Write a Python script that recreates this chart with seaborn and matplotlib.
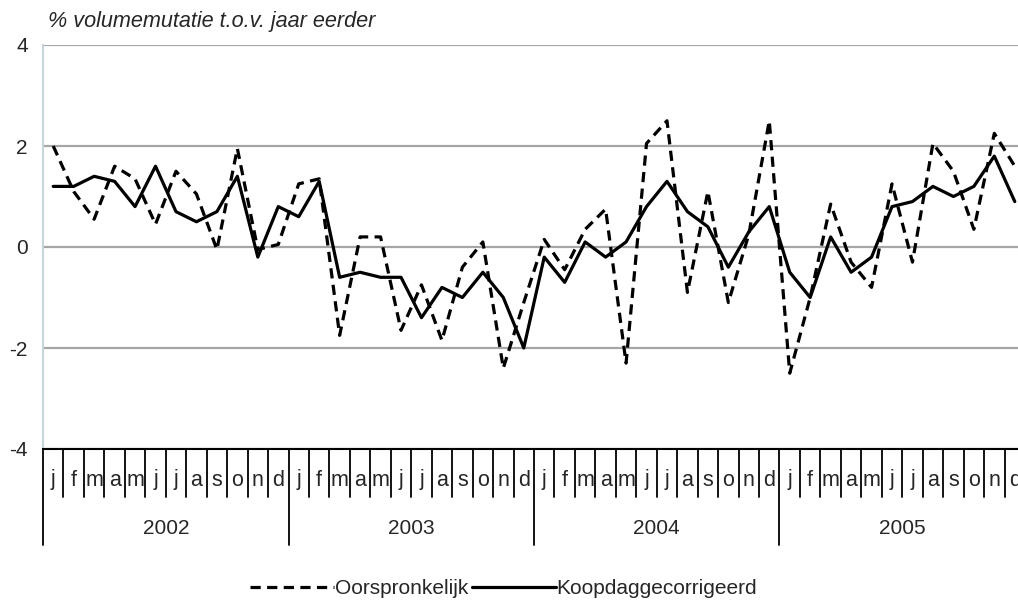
import pandas as pd
import matplotlib.pyplot as plt
import matplotlib.transforms as mtransforms
import seaborn as sns

# Data
months = ['j', 'f', 'm', 'a', 'm', 'j', 'j', 'a', 's', 'o', 'n', 'd']
years = [2002, 2003, 2004, 2005]

oorspronkelijk = [
    2.0, 1.1, 0.55, 1.6, 1.35, 0.45, 1.5, 1.05, -0.05, 1.95, -0.05, 0.05,
    1.25, 1.35, -1.75, 0.2, 0.2, -1.65, -0.75, -1.85, -0.4, 0.1, -2.4, -1.1,
    0.15, -0.45, 0.35, 0.75, -2.3, 2.05, 2.5, -0.9, 1.1, -1.1, 0.25, 2.5,
    -2.5, -1.0, 0.85, -0.3, -0.8, 1.25, -0.3, 2.05, 1.5, 0.35, 2.25, 1.6,
]
koopdaggecorrigeerd = [
    1.2, 1.2, 1.4, 1.3, 0.8, 1.6, 0.7, 0.5, 0.7, 1.4, -0.2, 0.8,
    0.6, 1.3, -0.6, -0.5, -0.6, -0.6, -1.4, -0.8, -1.0, -0.5, -1.0, -2.0,
    -0.2, -0.7, 0.1, -0.2, 0.1, 0.8, 1.3, 0.7, 0.4, -0.4, 0.3, 0.8,
    -0.5, -1.0, 0.2, -0.5, -0.2, 0.8, 0.9, 1.2, 1.0, 1.2, 1.8, 0.9,
]
y_ticks = [-4, -2, 0, 2, 4]

n = len(oorspronkelijk)
df = pd.DataFrame({
    'idx': list(range(n)) * 2,
    'waarde': oorspronkelijk + koopdaggecorrigeerd,
    'reeks': ['Oorspronkelijk'] * n + ['Koopdaggecorrigeerd'] * n,
})

sns.set_style('white')
plt.rcParams['font.family'] = ['Liberation Sans', 'DejaVu Sans']
plt.rcParams['font.size'] = 15

fig = plt.figure(figsize=(10.18, 6.01), dpi=100)
W, H = 1018, 601
# plot area runs past the right edge of the picture, like the original
ax = fig.add_axes([43 / W, 1 - 449 / H, 982 / W, 404 / H])

sns.lineplot(data=df, x='idx', y='waarde', style='reeks',
             style_order=['Oorspronkelijk', 'Koopdaggecorrigeerd'],
             dashes={'Oorspronkelijk': (3.2, 2), 'Koopdaggecorrigeerd': ''},
             color='black', linewidth=2.3, ax=ax, legend=True)

ax.set_xlim(-0.5, n - 0.5)
ax.set_ylim(-4, 4)
ax.set_yticks(y_ticks)
ax.set_yticklabels([str(t) for t in y_ticks])
ax.set_xticks([])
ax.set_xlabel('')
ax.set_ylabel('')
ax.yaxis.grid(True, color='#a6a6a6', linewidth=1.6)
ax.set_axisbelow(True)
ax.tick_params(axis='y', length=5, width=1, color='#c9d3da', pad=6, labelsize=15)
for s in ['top', 'right']:
    ax.spines[s].set_visible(False)
ax.spines['left'].set_color('#c9d3da')
ax.spines['left'].set_linewidth(1.5)
ax.spines['bottom'].set_color('black')
ax.spines['bottom'].set_linewidth(1.5)

# title as italic text top-left
fig.text(48 / W, 1 - 22 / H, '% volumemutatie t.o.v. jaar eerder',
         style='italic', fontsize=15.6, ha='left', va='center')

# hierarchical x axis: months, then years
trans = mtransforms.blended_transform_factory(ax.transData, fig.transFigure)
y_top = 1 - 449 / H
for i in range(n):
    ax.text(i, 1 - 480 / H, months[i % 12], transform=trans,
            ha='center', va='center', fontsize=15.5, clip_on=False)
for i in range(n + 1):
    y_bot = 1 - (545 if i % 12 == 0 else 497) / H
    ax.plot([i - 0.5, i - 0.5], [y_top, y_bot], transform=trans,
            color='black', linewidth=1.3, clip_on=False)
for k, yr in enumerate(years):
    ax.text(k * 12 + 5.5, 1 - 528 / H, str(yr), transform=trans,
            ha='center', va='center', fontsize=15, clip_on=False)

handles, labels = ax.get_legend_handles_labels()
ax.get_legend().remove()
fig.legend(handles, labels, loc='center', bbox_to_anchor=(0.495, 1 - 589 / H),
           ncol=2, frameon=False, fontsize=15, handlelength=4,
           handletextpad=0.05, columnspacing=0.2)

fig.savefig('out.png', dpi=100)
